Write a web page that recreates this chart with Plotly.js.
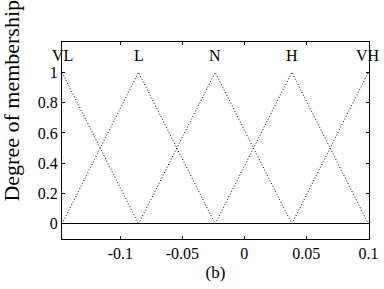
<!DOCTYPE html>
<html>
<head>
<meta charset="utf-8">
<script src="https://cdn.plot.ly/plotly-3.0.1.min.js"></script>
<style>html,body{margin:0;padding:0;background:#fff;}#chart{width:384px;height:289px;}</style>
</head>
<body>
<div id="chart"></div>
<script>
// Membership function peaks (x) and their labels
const centers = [-0.147, -0.0853, -0.0235, 0.0383, 0.1];
const labels = ["VL", "L", "N", "H", "VH"];
const peakValue = 1;
const xTickVals = [-0.1, -0.05, 0, 0.05, 0.1];
const xTickText = ["-0.1", "-0.05", "0", "0.05", "0.1"];
const yTickVals = [0, 0.2, 0.4, 0.6, 0.8, 1];
const yTickText = ["0", "0.2", "0.4", "0.6", "0.8", "1"];

const serif = "'Liberation Serif', 'Times New Roman', serif";

const traces = centers.map((c, i) => {
  const xs = [], ys = [];
  if (i > 0) { xs.push(centers[i - 1]); ys.push(0); }
  xs.push(c); ys.push(peakValue);
  if (i < centers.length - 1) { xs.push(centers[i + 1]); ys.push(0); }
  return {
    x: xs, y: ys, type: 'scatter', mode: 'lines',
    line: {color: '#000', width: 1, dash: '1px,2px'},
    hoverinfo: 'skip', showlegend: false
  };
});

const annotations = centers.map((c, i) => ({
  x: c, y: 1.11, xref: 'x', yref: 'y', text: labels[i], showarrow: false,
  font: {family: serif, size: 16, color: '#000'}
}));
annotations.push({
  xref: 'paper', yref: 'paper', x: -0.166, y: 0.703, xanchor: 'center', yanchor: 'middle',
  text: 'Degree of membership', textangle: -90, showarrow: false,
  font: {family: serif, size: 22, color: '#000'}
});

const layout = {
  width: 384, height: 289,
  margin: {l: 62, r: 15, t: 42, b: 50},
  paper_bgcolor: '#fff', plot_bgcolor: '#fff',
  showlegend: false,
  xaxis: {
    range: [centers[0], 0.1005], showgrid: false, zeroline: false,
    showline: true, linecolor: '#000', linewidth: 1, mirror: 'ticks',
    ticks: 'inside', ticklen: 3, tickcolor: '#000',
    tickvals: xTickVals, ticktext: xTickText,
    tickfont: {family: serif, size: 16, color: '#000'},
    title: {text: '(b)', font: {family: serif, size: 17, color: '#000'}, standoff: 4}
  },
  yaxis: {
    range: [-0.1, 1.2], showgrid: false,
    zeroline: true, zerolinecolor: '#000', zerolinewidth: 1,
    showline: true, linecolor: '#000', linewidth: 1, mirror: 'ticks',
    ticks: 'inside', ticklen: 3, tickcolor: '#000',
    tickvals: yTickVals, ticktext: yTickText,
    tickfont: {family: serif, size: 16, color: '#000'}
  },
  annotations: annotations
};

Plotly.newPlot('chart', traces, layout, {displayModeBar: false, staticPlot: true});
</script>
</body>
</html>
